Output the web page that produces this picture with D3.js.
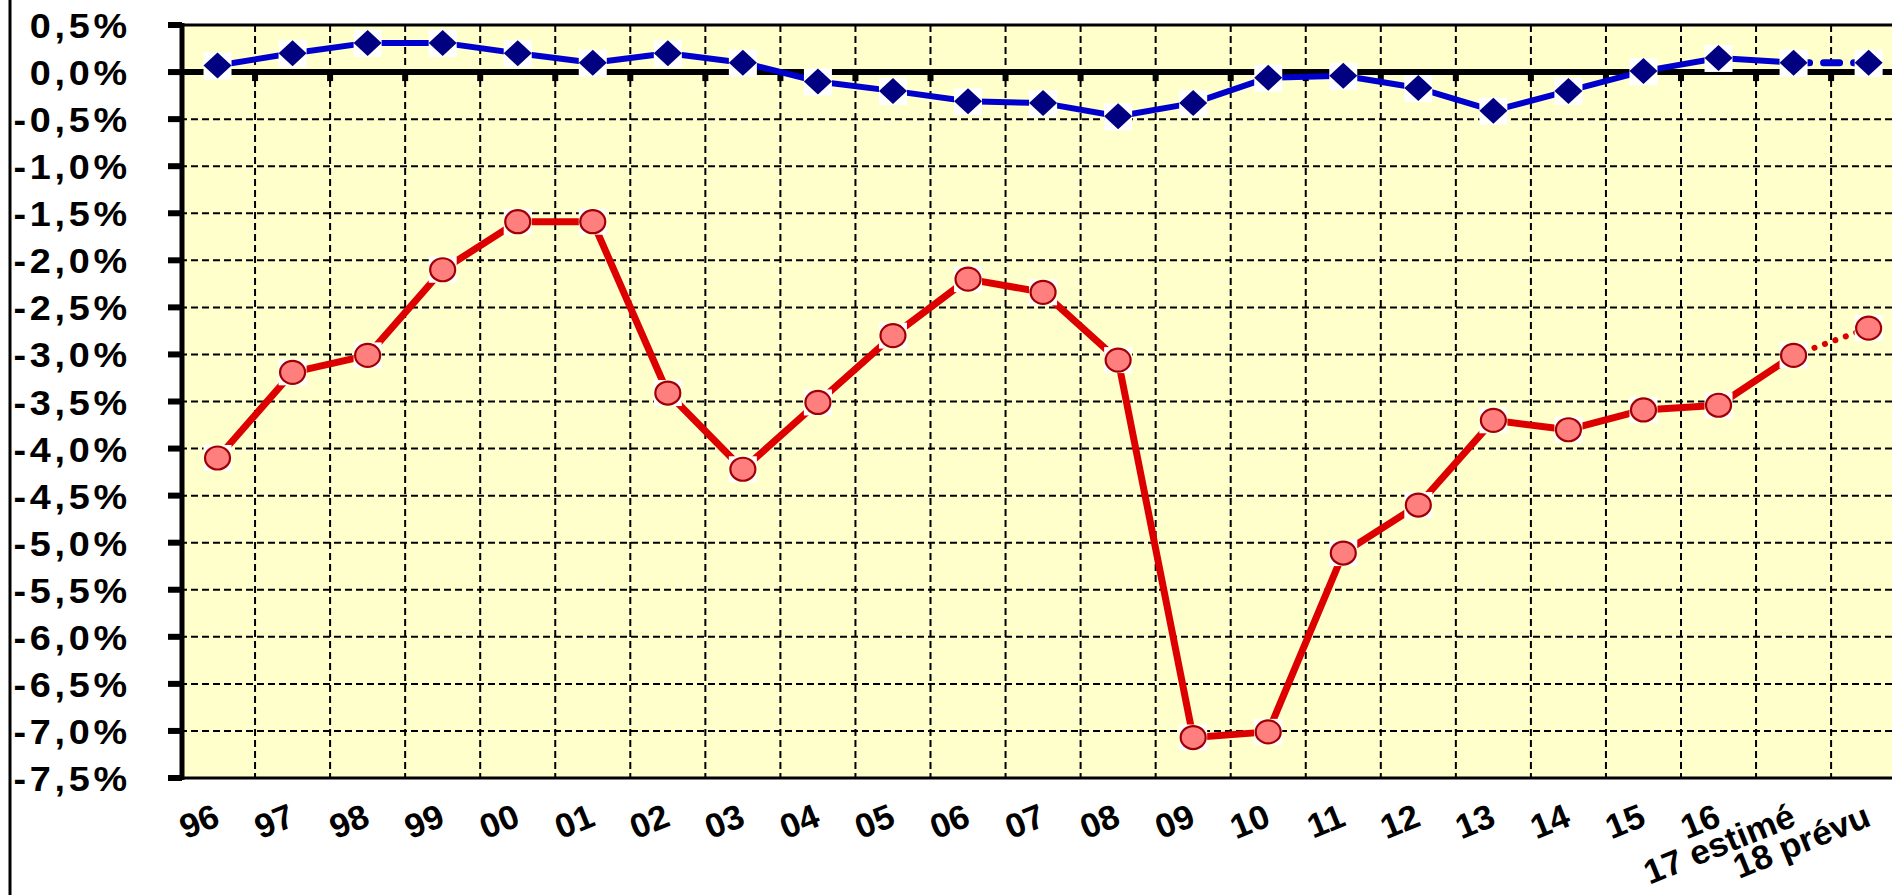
<!DOCTYPE html>
<html>
<head>
<meta charset="utf-8">
<script src="https://cdn.jsdelivr.net/npm/d3@7"></script>
<style>
  body { margin:0; background:#fff; }
  svg { display:block; }
  text { font-family:"Liberation Sans", Arial, sans-serif; font-weight:bold; fill:#000; }
</style>
</head>
<body>
<div id="chart"></div>
<script>
// categories (years) and the two series, values in %
let years = ["96","97","98","99","00","01","02","03","04","05","06","07","08","09","10","11","12","13","14","15","16","17 estimé","18 prévu"]
let blueValues = [0.07,0.2,0.31,0.31,0.2,0.1,0.2,0.1,-0.1,-0.2,-0.31,-0.33,-0.47,-0.33,-0.06,-0.04,-0.17,-0.41,-0.2,0.01,0.15,0.1,0.1]
let redValues = [-4.1,-3.19,-3.01,-2.1,-1.59,-1.59,-3.41,-4.22,-3.51,-2.8,-2.2,-2.34,-3.06,-7.07,-7.01,-5.11,-4.6,-3.7,-3.8,-3.59,-3.54,-3.01,-2.72]
let yTickValues = [0.5,0,-0.5,-1,-1.5,-2,-2.5,-3,-3.5,-4,-4.5,-5,-5.5,-6,-6.5,-7,-7.5]

let width = 1892, height = 895
let plotLeft = 180, plotTop = 25, plotBottom = 778, cell = 75.05

let svg = d3.select("#chart").append("svg")
  .attr("width", width).attr("height", height)

let defs = svg.append("defs")
defs.append("filter").attr("id","soft")
  .append("feGaussianBlur").attr("stdDeviation", 0.7)

let xScale = d3.scaleBand().domain(years)
  .range([plotLeft, plotLeft + cell*years.length]).paddingInner(0).paddingOuter(0)
let yScale = d3.scaleLinear().domain([0.5,-7.5]).range([plotTop,plotBottom])
let cx = d => xScale(d) + xScale.bandwidth()/2

let fmt = v => d3.format(".1f")(Math.abs(v)).replace(".", ",") + "%"
let label = v => (v < 0 ? "-" : "") + fmt(v)

// outer thin frame line on the left
svg.append("line").attr("x1",10).attr("x2",10).attr("y1",0).attr("y2",height)
  .attr("stroke","#000").attr("stroke-width",3)

// plot background
svg.append("rect").attr("x",plotLeft).attr("y",plotTop)
  .attr("width", width-plotLeft).attr("height", plotBottom-plotTop)
  .attr("fill","#FFFFCC")

// horizontal dashed gridlines
svg.append("g").selectAll("line")
  .data(yTickValues.filter(v => v < 0.5 && v > -7.5 && v != 0))
  .enter().append("line")
  .attr("x1", plotLeft).attr("x2", width)
  .attr("y1", d => yScale(d)).attr("y2", d => yScale(d))
  .attr("stroke","#000").attr("stroke-width",2).attr("stroke-dasharray","7,4")

// vertical dashed gridlines between categories
svg.append("g").selectAll("line")
  .data(years.slice(1))
  .enter().append("line")
  .attr("x1", d => xScale(d)).attr("x2", d => xScale(d))
  .attr("y1", plotTop).attr("y2", plotBottom)
  .attr("stroke","#000").attr("stroke-width",2).attr("stroke-dasharray","7,4")

// top and bottom borders
svg.append("line").attr("x1",plotLeft).attr("x2",width).attr("y1",plotTop).attr("y2",plotTop)
  .attr("stroke","#000").attr("stroke-width",3)
svg.append("line").attr("x1",plotLeft).attr("x2",width).attr("y1",plotBottom).attr("y2",plotBottom)
  .attr("stroke","#000").attr("stroke-width",3)

// zero line with small ticks below
let y0 = yScale(0)
svg.append("line").attr("x1",plotLeft).attr("x2",width).attr("y1",y0).attr("y2",y0)
  .attr("stroke","#000").attr("stroke-width",6)
svg.append("g").selectAll("rect")
  .data(years.slice(1))
  .enter().append("rect")
  .attr("x", d => xScale(d)-3).attr("y", y0+2)
  .attr("width",6).attr("height",7).attr("fill","#000")

// y axis
svg.append("line").attr("x1",plotLeft+2).attr("x2",plotLeft+2).attr("y1",plotTop-2).attr("y2",plotBottom+2)
  .attr("stroke","#000").attr("stroke-width",5)
svg.append("g").selectAll("rect")
  .data(yTickValues)
  .enter().append("rect")
  .attr("x", plotLeft-12).attr("y", d => yScale(d)-3)
  .attr("width",14).attr("height",6).attr("fill","#000")

svg.append("g").selectAll("text")
  .data(yTickValues)
  .enter().append("text")
  .attr("text-anchor","end")
  .attr("font-size",35)
  .attr("letter-spacing",3.5)
  .attr("transform", d => `translate(131,${yScale(d)+13}) scale(1.08,1)`)
  .text(label)

// x labels, rotated
svg.append("g").selectAll("text")
  .data(years)
  .enter().append("text")
  .attr("text-anchor","end")
  .attr("font-size",34)
  .attr("transform", d => `translate(${cx(d)+4},${825}) rotate(-22) scale(1.03,1)`)
  .text(d => d)

// lines
let line = d3.line().x(d => cx(d.year)).y(d => yScale(d.value))
let redData = years.map((y,i) => ({year:y, value:redValues[i]}))
let blueData = years.map((y,i) => ({year:y, value:blueValues[i]}))
let n = years.length

svg.append("path").attr("d", line(redData.slice(0,n-1)))
  .attr("fill","none").attr("stroke","#DD0000").attr("stroke-width",7).attr("stroke-linejoin","round")
svg.append("path").attr("d", line(redData.slice(n-2)))
  .attr("fill","none").attr("stroke","#DD0000").attr("stroke-width",6)
  .attr("stroke-linecap","round").attr("stroke-dasharray","0.1,11")

svg.append("path").attr("d", line(blueData.slice(0,n-1)))
  .attr("fill","none").attr("stroke","#0000CC").attr("stroke-width",6).attr("stroke-linejoin","round")
svg.append("path").attr("d", line(blueData.slice(n-2)))
  .attr("fill","none").attr("stroke","#0000CC").attr("stroke-width",7)
  .attr("stroke-linecap","round").attr("stroke-dasharray","16,14")

// markers: red circles on white squares
let redMarks = svg.append("g").selectAll("g").data(redData).enter().append("g")
  .attr("transform", d => `translate(${cx(d.year)},${yScale(d.value)})`)
redMarks.append("rect").attr("x",-14).attr("y",-13).attr("width",28).attr("height",26).attr("fill","#fff")
redMarks.append("ellipse").attr("rx",12.5).attr("ry",11.5)
  .attr("fill","#FF7F7F").attr("stroke","#A00000").attr("stroke-width",2.2)

// markers: blue diamonds on white squares
let blueMarks = svg.append("g").selectAll("g").data(blueData).enter().append("g")
  .attr("transform", d => `translate(${cx(d.year)},${yScale(d.value)})`)
blueMarks.append("rect").attr("x",-14).attr("y",-13).attr("width",28).attr("height",27).attr("fill","#fff")
blueMarks.append("path").attr("d","M0,-13L14,0L0,13L-14,0Z")
  .attr("fill","#000080").attr("filter","url(#soft)")
</script>
</body>
</html>
